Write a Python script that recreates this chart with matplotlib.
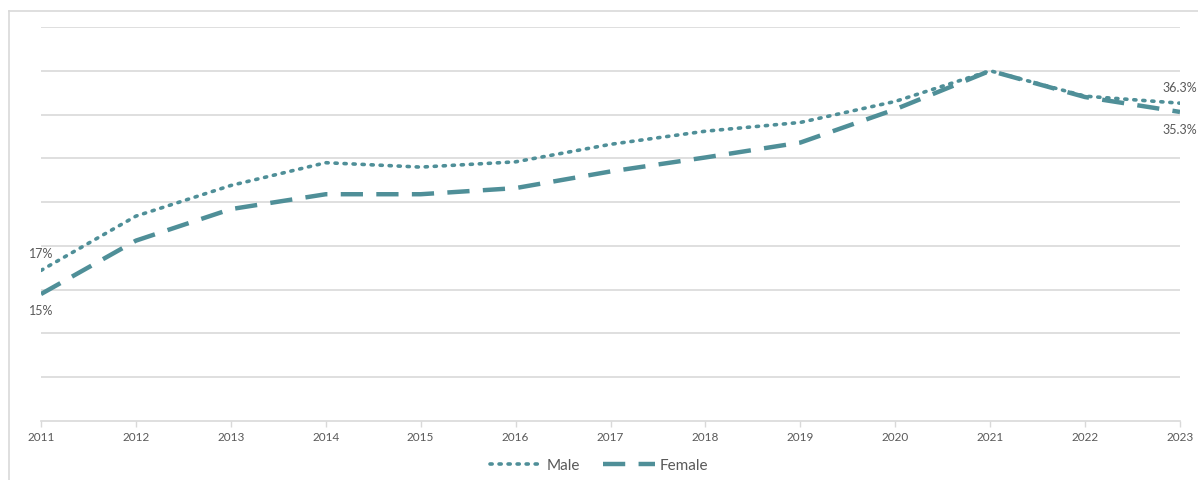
import matplotlib.pyplot as plt
from matplotlib.lines import Line2D

plt.rcParams['font.family'] = ['Lato', 'DejaVu Sans']

years = list(range(2011, 2024))
male = [17.2, 23.4, 26.9, 29.5, 29.0, 29.6, 31.6, 33.1, 34.1, 36.5, 40.0, 37.1, 36.3]
female = [14.5, 20.6, 24.2, 25.9, 25.9, 26.6, 28.5, 30.1, 31.8, 35.6, 40.0, 37.0, 35.3]

teal = '#4f8f98'
grey = '#595959'
grid = '#d9d9d9'

fig = plt.figure(figsize=(11.98, 4.81), dpi=100)
ax = fig.add_axes([41 / 1198, 1 - 422 / 481, (1180 - 41) / 1198, (422 - 28) / 481])

# outer chart frame (left + top)
fig.add_artist(Line2D([8.5 / 1198, 8.5 / 1198], [0, 1 - 12 / 481], color=grid, lw=1.2, transform=fig.transFigure))
fig.add_artist(Line2D([8.5 / 1198, 1], [1 - 12 / 481, 1 - 12 / 481], color=grid, lw=1.2, transform=fig.transFigure))

ax.plot(years, male, color=teal, lw=2.6, linestyle=(0, (0.6, 1.9)), dash_capstyle='round', label='Male')
ax.plot(years, female, color=teal, lw=3.2, linestyle=(0, (5, 3)), label='Female')

ax.set_xlim(2011, 2023)
ax.set_ylim(0, 45)
ax.set_yticks(range(5, 46, 5))
ax.yaxis.grid(True, color=grid, lw=1.2)
ax.set_axisbelow(True)
ax.tick_params(axis='y', left=False, labelleft=False)
ax.set_xticks(years)
ax.tick_params(axis='x', colors=grid, length=4, width=1, labelcolor=grey, labelsize=8.5, pad=3)
for s in ['top', 'right', 'left']:
    ax.spines[s].set_visible(False)
ax.spines['bottom'].set_color(grid)
ax.spines['bottom'].set_linewidth(1.2)

ax.annotate('17%', (2011, male[0]), xytext=(0, 8), textcoords='offset points', ha='center', va='bottom', color=grey, fontsize=9)
ax.annotate('15%', (2011, female[0]), xytext=(0, -7), textcoords='offset points', ha='center', va='top', color=grey, fontsize=9)
ax.annotate('36.3%', (2023, male[-1]), xytext=(0, 7), textcoords='offset points', ha='center', va='bottom', color=grey, fontsize=9)
ax.annotate('35.3%', (2023, female[-1]), xytext=(0, -8), textcoords='offset points', ha='center', va='top', color=grey, fontsize=9)

fig.legend(loc='lower center', bbox_to_anchor=(0.5, -0.012), ncol=2, frameon=False, fontsize=11,
           labelcolor=grey, handlelength=3.4, columnspacing=1.5, handletextpad=0.3)

fig.savefig('out.png', dpi=100)
